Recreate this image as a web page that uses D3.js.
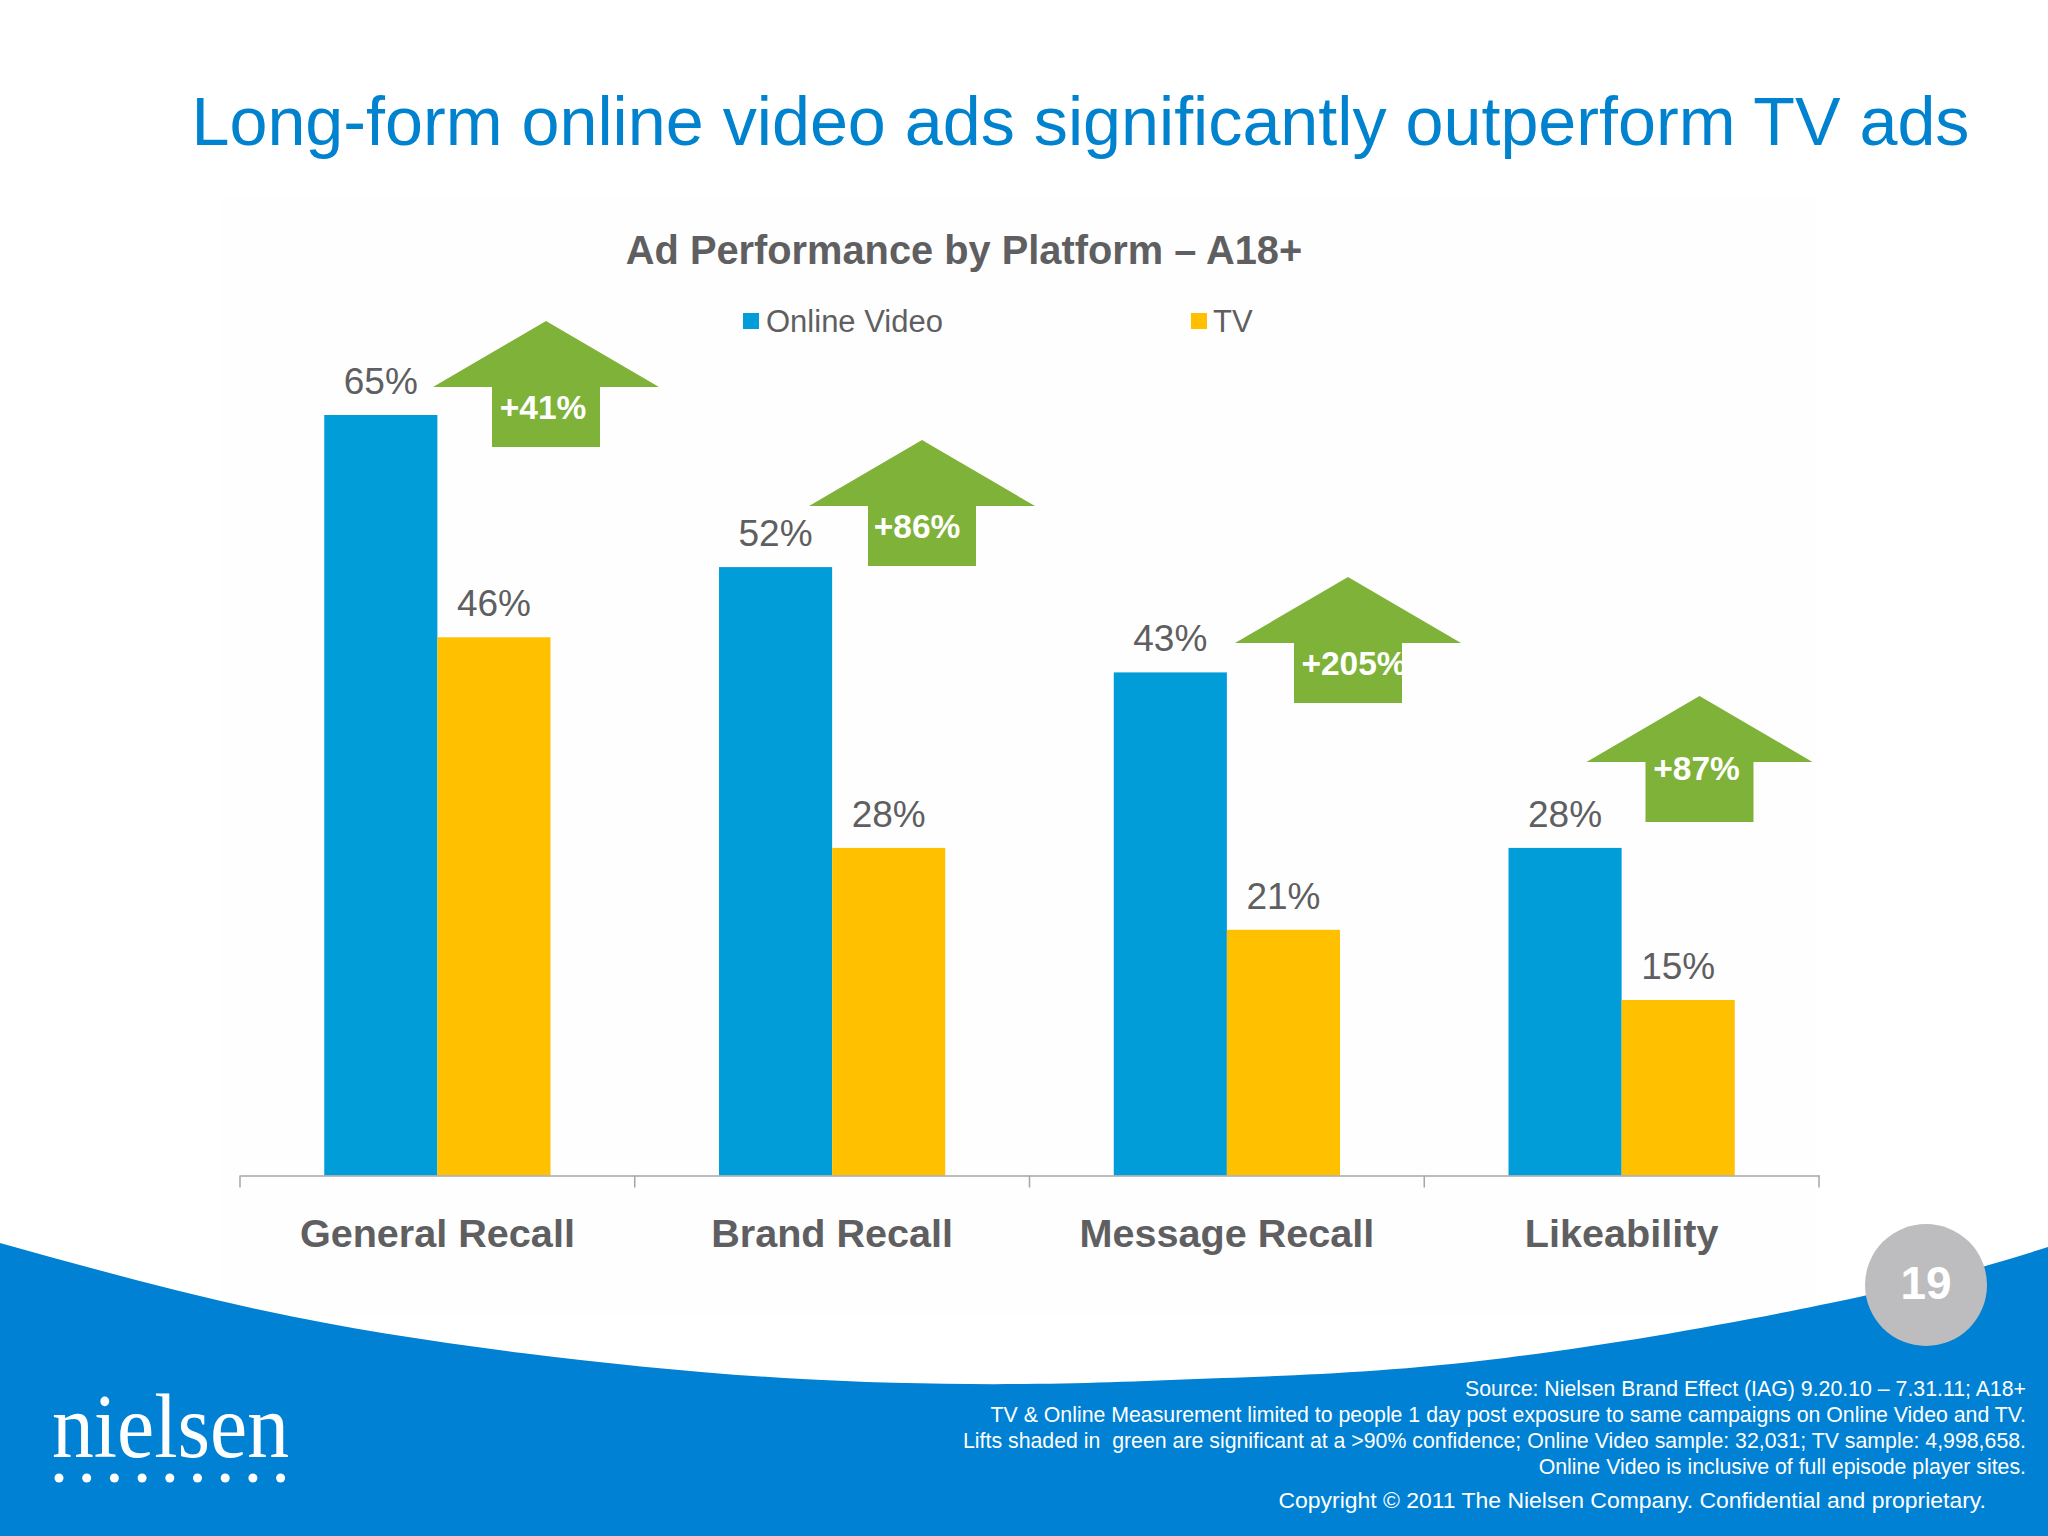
<!DOCTYPE html>
<html>
<head>
<meta charset="utf-8">
<script src="https://cdn.jsdelivr.net/npm/d3@7"></script>
<style>
  html, body { margin: 0; padding: 0; background: #fff; }
  svg { display: block; }
  text { font-family: "Liberation Sans", Arial, sans-serif; white-space: pre; }
</style>
</head>
<body>
<div id="chart"></div>
<script>
const categories = ["General Recall", "Brand Recall", "Message Recall", "Likeability"]
const seriesNames = ["Online Video", "TV"]
const onlineVideo = [65, 52, 43, 28]
const tv = [46, 28, 21, 15]
const lifts = ["+41%", "+86%", "+205%", "+87%"]

const footnotes = [
    "Source: Nielsen Brand Effect (IAG) 9.20.10 – 7.31.11; A18+",
    "TV & Online Measurement limited to people 1 day post exposure to same campaigns on Online Video and TV.",
    "Lifts shaded in  green are significant at a >90% confidence; Online Video sample: 32,031; TV sample: 4,998,658.",
    "Online Video is inclusive of full episode player sites."
]

const WIDTH = 2048
const HEIGHT = 1536
const margin = {left: 240, right: 229, base: 1175.5}
const BLUE = "#009DD9", YELLOW = "#FFC000", GREEN = "#7FB239", GREY = "#5F5F62"

const svg = d3.select("#chart").append("svg")
    .attr("width", WIDTH)
    .attr("height", HEIGHT)

// faint panel behind the chart, left over from the slide
svg.append("rect")
    .attr("x", 222).attr("y", 196)
    .attr("width", 1594).attr("height", 1120)
    .attr("fill", "#FEFEFE")

// blue swoosh along the bottom
const swoosh = d3.area()
    .x(d => d[0])
    .y0(HEIGHT)
    .y1(d => d[1])
    .curve(d3.curveNatural)
svg.append("path")
    .attr("d", swoosh([[0, 1243], [261, 1310], [522, 1353], [784, 1378], [1024, 1384], [1223, 1378], [1505, 1358], [1859, 1297], [2048, 1247]]))
    .attr("fill", "#0081D3")

svg.append("text")
    .attr("x", 191.5).attr("y", 145)
    .attr("font-size", 68.25)
    .attr("fill", "#0082CF")
    .text("Long-form online video ads significantly outperform TV ads")

svg.append("text")
    .attr("x", 964).attr("y", 264)
    .attr("text-anchor", "middle")
    .attr("font-size", 39.8)
    .attr("font-weight", "bold")
    .attr("fill", GREY)
    .text("Ad Performance by Platform – A18+")

// scales
const x0 = d3.scaleBand()
    .domain(categories)
    .range([margin.left, WIDTH - margin.right])

const x1 = d3.scaleBand()
    .domain(seriesNames)
    .range([0, x0.bandwidth()])
    .paddingOuter(0.745)
    .paddingInner(0)

const y = d3.scaleLinear()
    .domain([0, 65])
    .range([margin.base, 415])

// legend
const legendX = [743, 1191]
const legendTextX = [766, 1213]
const colors = [BLUE, YELLOW]
seriesNames.forEach((name, i) => {
    svg.append("rect")
        .attr("x", legendX[i]).attr("y", 313)
        .attr("width", 16).attr("height", 16)
        .attr("fill", colors[i])
    svg.append("text")
        .attr("x", legendTextX[i]).attr("y", 332)
        .attr("font-size", 31)
        .attr("fill", GREY)
        .text(name)
})

// bars + value labels
const series = [onlineVideo, tv]
series.forEach((values, s) => {
    const g = svg.append("g")
    g.selectAll("rect")
        .data(values)
        .enter()
        .append("rect")
        .attr("x", (d, i) => x0(categories[i]) + x1(seriesNames[s]))
        .attr("y", d => y(d))
        .attr("width", x1.bandwidth())
        .attr("height", d => y(0) - y(d))
        .attr("fill", colors[s])
    g.selectAll("text")
        .data(values)
        .enter()
        .append("text")
        .attr("x", (d, i) => x0(categories[i]) + x1(seriesNames[s]) + x1.bandwidth() / 2)
        .attr("y", d => y(d) - 21)
        .attr("text-anchor", "middle")
        .attr("font-size", 37)
        .attr("fill", GREY)
        .text(d => d + "%")
})

// axis, labels from the band scale, ticks at the band edges
const xAxis = d3.axisBottom(x0).tickSize(0).tickPadding(43)
const axisG = svg.append("g")
    .attr("transform", "translate(0," + margin.base + ")")
    .call(xAxis)
axisG.select(".domain").attr("stroke", "#A6A6A6").attr("stroke-width", 1.5)
axisG.selectAll("text")
    .attr("font-size", 39.6)
    .attr("font-weight", "bold")
    .attr("fill", GREY)
categories.concat([null]).forEach(c => {
    const tx = c ? x0(c) : x0.range()[1]
    axisG.append("line")
        .attr("x1", tx).attr("x2", tx)
        .attr("y1", 0).attr("y2", 12)
        .attr("stroke", "#A6A6A6")
        .attr("stroke-width", 1.5)
})

// lift arrows
const arrowCx = [546, 922, 1348, 1699.5]
const arrowTop = [321, 440, 577, 696]
const textDx = [-3, -5, 6, -3]
const textDy = [98, 98, 98, 84]
lifts.forEach((lift, i) => {
    const cx = arrowCx[i], t = arrowTop[i]
    const pts = [[cx, t], [cx + 113, t + 66], [cx + 54, t + 66], [cx + 54, t + 126],
                 [cx - 54, t + 126], [cx - 54, t + 66], [cx - 113, t + 66]]
    svg.append("polygon")
        .attr("points", pts.join(" "))
        .attr("fill", GREEN)
    svg.append("text")
        .attr("x", cx + textDx[i]).attr("y", t + textDy[i])
        .attr("text-anchor", "middle")
        .attr("font-size", 33.5)
        .attr("font-weight", "bold")
        .attr("fill", "#fff")
        .text(lift)
})

// page number
svg.append("circle")
    .attr("cx", 1926).attr("cy", 1285).attr("r", 61)
    .attr("fill", "#BDBDBF")
svg.append("text")
    .attr("x", 1926).attr("y", 1299)
    .attr("text-anchor", "middle")
    .attr("font-size", 46)
    .attr("font-weight", "bold")
    .attr("fill", "#fff")
    .text("19")

// footer
const noteY = [1396, 1422, 1447.5, 1473.5]
footnotes.forEach((line, i) => {
    svg.append("text")
        .attr("x", 2026).attr("y", noteY[i])
        .attr("text-anchor", "end")
        .attr("font-size", 21.3)
        .attr("fill", "#fff")
        .text(line)
})
svg.append("text")
    .attr("x", 1986).attr("y", 1508)
    .attr("text-anchor", "end")
    .attr("font-size", 22.95)
    .attr("fill", "#fff")
    .text("Copyright © 2011 The Nielsen Company. Confidential and proprietary.")

// logo
svg.append("text")
    .attr("x", 52).attr("y", 1457)
    .style("font-family", "'Liberation Serif', serif")
    .attr("font-size", 90)
    .attr("textLength", 237)
    .attr("lengthAdjust", "spacingAndGlyphs")
    .attr("fill", "#fff")
    .text("nielsen")
svg.append("g").selectAll("circle")
    .data(d3.range(9))
    .enter()
    .append("circle")
    .attr("cx", d => 59 + d * 27.7)
    .attr("cy", 1478)
    .attr("r", 4.5)
    .attr("fill", "#fff")
</script>
</body>
</html>
